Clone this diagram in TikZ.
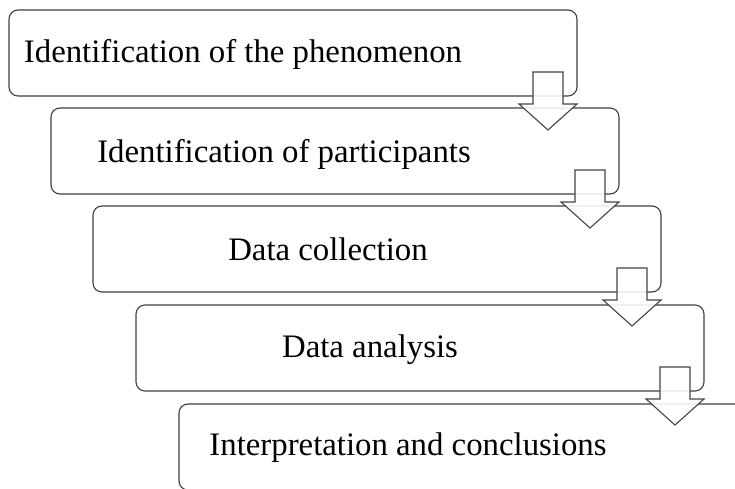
\documentclass[tikz,border=0pt]{standalone}
\usepackage{fontspec}
\setmainfont{Liberation Serif}
\usetikzlibrary{calc}
\definecolor{boxline}{HTML}{404040}
\definecolor{arrowline}{HTML}{454545}
\begin{document}
\begin{tikzpicture}[x=1pt,y=-1pt,
  stage/.style={draw=boxline, line width=1.1pt, rounded corners=9pt, fill=white,
    minimum width=568pt, minimum height=86pt, anchor=north west,
    inner sep=0pt, outer sep=0pt},
  stagetext/.style={anchor=base, inner sep=0pt, font=\fontsize{32.8}{38}\selectfont},
  flow/.style={draw=arrowline, line width=1.1pt, fill=white, fill opacity=0.88,
    line join=miter}
]
\useasboundingbox (0,0) rectangle (735,489);
\clip (0,0) rectangle (735,489);

% staggered process boxes
\node[stage] (s1) at (9,10) {};
\node[stage] (s2) at (51,108) {};
\node[stage] (s3) at (93,206) {};
\node[stage] (s4) at (136,305) {};
\node[stage] (s5) at (179,404) {};

% captions
\node[stagetext] (t1) at (243,63) {Identification of the phenomenon};
\node[stagetext] (t2) at (284,163) {Identification of participants};
\node[stagetext] (t3) at (328,260) {Data collection};
\node[stagetext] (t4) at (370,357) {Data analysis};
\node[stagetext] (t5) at (408,455) {Interpretation and conclusions};

% block arrows hanging from the lower right corner of each box
\foreach \a in {s1,s2,s3,s4}{
  \draw[flow] ($(\a.south east)+(-44,-24)$) -- ++(30,0) -- ++(0,32) -- ++(14,0)
    -- ++(-29,26) -- ++(-29,-26) -- ++(14,0) -- cycle;
}
\end{tikzpicture}
\end{document}
